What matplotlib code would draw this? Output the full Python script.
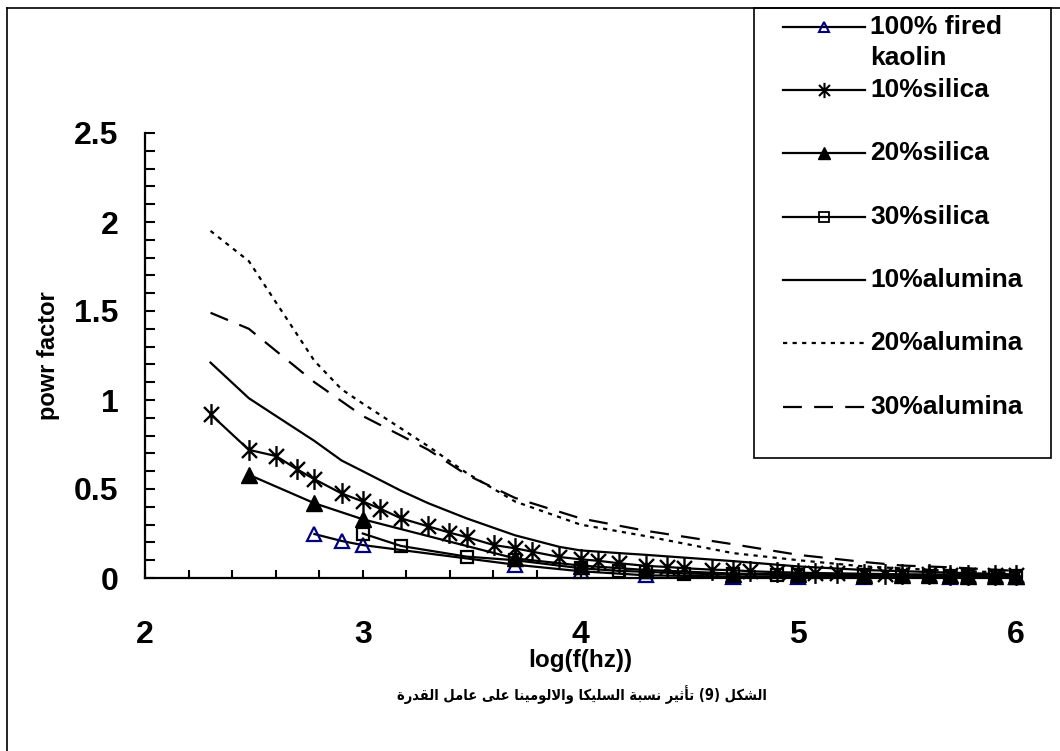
import matplotlib
matplotlib.use("Agg")
import matplotlib.pyplot as plt
from matplotlib.ticker import MultipleLocator
from matplotlib.lines import Line2D
from matplotlib.patches import Rectangle
from matplotlib.path import Path

# ---------------- data (log10 of frequency in Hz, power factor) ----------------
x_kaolin = [2.778, 2.903, 3.0, 3.699, 4.0, 4.301, 4.699, 5.0, 5.301, 5.699, 6.0]
y_kaolin = [0.247, 0.208, 0.185, 0.075, 0.038, 0.015, 0.008, 0.006, 0.005, 0.004, 0.003]

x_si10 = [2.301, 2.477, 2.602, 2.699, 2.778, 2.903, 3.0, 3.079, 3.176, 3.301, 3.398, 3.477,
          3.602, 3.699, 3.778, 3.903, 4.0, 4.079, 4.176, 4.301, 4.398, 4.477, 4.602, 4.699,
          4.778, 4.903, 5.0, 5.079, 5.176, 5.301, 5.398, 5.477, 5.602, 5.699, 5.778, 5.903, 6.0]
y_si10 = [0.92, 0.72, 0.685, 0.61, 0.555, 0.475, 0.43, 0.39, 0.335, 0.29, 0.255, 0.23,
          0.185, 0.167, 0.148, 0.118, 0.105, 0.097, 0.083, 0.068, 0.062, 0.055, 0.047, 0.044,
          0.038, 0.033, 0.030, 0.028, 0.026, 0.024, 0.022, 0.021, 0.020, 0.019, 0.018, 0.017, 0.016]

x_si20 = [2.477, 2.778, 3.0, 3.699, 4.0, 4.301, 4.699, 5.0, 5.301, 5.477, 5.602, 5.699, 5.778, 5.903, 6.0]
y_si20 = [0.58, 0.42, 0.33, 0.11, 0.07, 0.045, 0.025, 0.020, 0.017, 0.016, 0.015, 0.015, 0.014, 0.013, 0.012]

x_si30 = [3.0, 3.176, 3.477, 3.699, 4.0, 4.176, 4.301, 4.477, 4.699, 4.903, 5.0, 5.301, 5.477,
          5.602, 5.699, 5.778, 5.903, 6.0]
y_si30 = [0.25, 0.18, 0.12, 0.10, 0.055, 0.04, 0.035, 0.025, 0.020, 0.018, 0.017, 0.015, 0.014,
          0.013, 0.013, 0.012, 0.012, 0.011]

x_al10 = [2.301, 2.477, 2.602, 2.778, 2.903, 3.0, 3.176, 3.301, 3.477, 3.699, 3.903, 4.0,
          4.176, 4.301, 4.699, 5.0, 5.301, 5.699, 6.0]
y_al10 = [1.21, 1.01, 0.91, 0.77, 0.66, 0.60, 0.49, 0.42, 0.335, 0.24, 0.175, 0.155,
          0.14, 0.13, 0.095, 0.065, 0.045, 0.030, 0.020]

x_al20 = [2.301, 2.477, 2.778, 2.903, 3.0, 3.176, 3.301, 3.477, 3.602, 3.699, 4.0, 4.301,
          4.699, 5.0, 5.301, 5.699, 6.0]
y_al20 = [1.95, 1.78, 1.22, 1.06, 0.98, 0.84, 0.74, 0.59, 0.50, 0.43, 0.30, 0.235,
          0.14, 0.10, 0.065, 0.04, 0.03]

x_al30 = [2.301, 2.477, 2.778, 3.0, 3.176, 3.301, 3.477, 3.699, 4.0, 4.301, 4.699, 5.0,
          5.301, 5.477, 5.699, 6.0]
y_al30 = [1.49, 1.40, 1.10, 0.91, 0.80, 0.72, 0.58, 0.45, 0.335, 0.265, 0.19, 0.13,
          0.09, 0.07, 0.06, 0.04]

labels = ["100% fired\nkaolin", "10%silica", "20%silica", "30%silica",
          "10%alumina", "20%alumina", "30%alumina"]
x_label = "log(f(hz))"
y_label = "powr factor"
caption = "الشكل (9) تأثير نسبة السليكا والالومينا على عامل القدرة"

x_ticks = [2, 3, 4, 5, 6]
y_ticks = [0, 0.5, 1, 1.5, 2, 2.5]
y_tick_labels = ["0", "0.5", "1", "1.5", "2", "2.5"]

# ---------------- simple Arabic shaping (matplotlib has no shaping / bidi) ----------------
FORMS = {
    'ا': ('\uFE8D', '\uFE8E'), 'أ': ('\uFE83', '\uFE84'),
    'ب': ('\uFE8F', '\uFE90', '\uFE91', '\uFE92'), 'ة': ('\uFE93', '\uFE94'),
    'ت': ('\uFE95', '\uFE96', '\uFE97', '\uFE98'), 'ث': ('\uFE99', '\uFE9A', '\uFE9B', '\uFE9C'),
    'د': ('\uFEA9', '\uFEAA'), 'ر': ('\uFEAD', '\uFEAE'),
    'س': ('\uFEB1', '\uFEB2', '\uFEB3', '\uFEB4'), 'ش': ('\uFEB5', '\uFEB6', '\uFEB7', '\uFEB8'),
    'ع': ('\uFEC9', '\uFECA', '\uFECB', '\uFECC'), 'ق': ('\uFED5', '\uFED6', '\uFED7', '\uFED8'),
    'ك': ('\uFED9', '\uFEDA', '\uFEDB', '\uFEDC'), 'ل': ('\uFEDD', '\uFEDE', '\uFEDF', '\uFEE0'),
    'م': ('\uFEE1', '\uFEE2', '\uFEE3', '\uFEE4'), 'ن': ('\uFEE5', '\uFEE6', '\uFEE7', '\uFEE8'),
    'و': ('\uFEED', '\uFEEE'), 'ى': ('\uFEEF', '\uFEF0'),
    'ي': ('\uFEF1', '\uFEF2', '\uFEF3', '\uFEF4'),
}
LAMALEF = {'ا': ('\uFEFB', '\uFEFC'), 'أ': ('\uFEF7', '\uFEF8')}


def shape_arabic(text):
    chars = list(text)
    n = len(chars)
    dual = lambda c: c in FORMS and len(FORMS[c]) == 4
    out = []
    i = 0
    while i < n:
        c = chars[i]
        if c not in FORMS:
            out.append(c)
            i += 1
            continue
        prev = chars[i - 1] if i > 0 else None
        join_prev = prev is not None and dual(prev)
        if c == 'ل' and i + 1 < n and chars[i + 1] in LAMALEF:
            iso, fin = LAMALEF[chars[i + 1]]
            out.append(fin if join_prev else iso)
            i += 2
            continue
        nxt = chars[i + 1] if i + 1 < n else None
        join_next = dual(c) and nxt is not None and nxt in FORMS
        f = FORMS[c]
        if join_prev and join_next:
            g = f[3]
        elif join_prev:
            g = f[1]
        elif join_next:
            g = f[2]
        else:
            g = f[0]
        out.append(g)
        i += 1
    vis = ''.join(out)[::-1]
    return vis.translate(str.maketrans('()', ')('))


# ---------------- figure ----------------
W, H = 1060, 751
plt.rcParams['font.family'] = ['Liberation Sans', 'DejaVu Sans']
plt.rcParams['font.weight'] = 'bold'
fig = plt.figure(figsize=(W / 100, H / 100), dpi=100)
fig.patch.set_facecolor('white')


def fx(px):
    return px / W


def fy(py):
    return 1 - py / H


ax = fig.add_axes([fx(145), fy(578), fx(1016) - fx(145), fy(133) - fy(578)])
ax.set_facecolor('none')

lw = 1.6
NAVY = '#000080'
# Excel-style asterisk: vertical bar plus a diagonal cross
asterisk = Path([(0, -1), (0, 1), (-0.72, -0.72), (0.72, 0.72), (-0.72, 0.72), (0.72, -0.72)],
                [Path.MOVETO, Path.LINETO, Path.MOVETO, Path.LINETO, Path.MOVETO, Path.LINETO])

styles = [
    dict(color='black', lw=lw, marker='^', ms=10, mfc='none', mec=NAVY, mew=1.6),
    dict(color='black', lw=lw, marker=asterisk, ms=15, mec='black', mew=1.7),
    dict(color='black', lw=lw, marker='^', ms=11, mfc='black', mec='black'),
    dict(color='black', lw=lw, marker='s', ms=9, mfc='none', mec='black', mew=1.6),
    dict(color='black', lw=lw, ls='-'),
    dict(color='black', lw=lw, dashes=(1.9, 2.4)),
    dict(color='black', lw=lw, dashes=(8.5, 5.5)),
]
series = [(x_kaolin, y_kaolin), (x_si10, y_si10), (x_si20, y_si20), (x_si30, y_si30),
          (x_al10, y_al10), (x_al20, y_al20), (x_al30, y_al30)]

for (xs, ys), st, lab in zip(series, styles, labels):
    ax.plot(xs, ys, label=lab, clip_on=False, **st)

ax.set_xlim(2, 6)
ax.set_ylim(0, 2.5)
ax.set_xticks(x_ticks)
ax.set_xticklabels([str(t) for t in x_ticks])
ax.set_yticks(y_ticks)
ax.set_yticklabels(y_tick_labels)
ax.xaxis.set_minor_locator(MultipleLocator(0.2))
ax.yaxis.set_minor_locator(MultipleLocator(0.1))
for s in ('top', 'right'):
    ax.spines[s].set_visible(False)
for s in ('left', 'bottom'):
    ax.spines[s].set_linewidth(1.6)
ax.tick_params(axis='x', which='both', direction='in', length=6, width=1.5, pad=30,
               labelsize=23)
ax.tick_params(axis='y', which='both', direction='in', length=7.5, width=1.5, pad=19,
               labelsize=23)
for t in ax.get_xticklabels() + ax.get_yticklabels():
    t.set_fontweight('bold')

fig.text(fx(48), fy(356), y_label, rotation=90, ha='center', va='center',
         fontsize=17, fontweight='bold')
fig.text(fx(580), fy(661), x_label, ha='center', va='center', fontsize=17.5, fontweight='bold')
fig.text(fx(582), fy(695), shape_arabic(caption), ha='center', va='center', fontsize=10.5,
         fontweight='bold', fontstretch='condensed', family=['DejaVu Sans'])

# outer chart frame (extends past the image on right and bottom)
fig.add_artist(Line2D([fx(7), 1.0], [fy(8), fy(8)], color='black', lw=1.2))
fig.add_artist(Line2D([fx(7), fx(7)], [fy(8), 0.0], color='black', lw=1.2))

# legend box drawn manually to match the Excel layout
fig.add_artist(Rectangle((fx(754), fy(458)), fx(1051) - fx(754), fy(8) - fy(458),
                         fill=True, facecolor='white', edgecolor='black', lw=1.2))
handle_y = [27, 90, 153, 217, 280, 343, 407]
leg_styles = [
    dict(color='black', lw=lw, marker='^', ms=7, mfc='none', mec=NAVY, mew=1.5),
    dict(color='black', lw=lw, marker=asterisk, ms=11, mec='black', mew=1.5),
    dict(color='black', lw=lw, marker='^', ms=8, mfc='black', mec='black'),
    dict(color='black', lw=lw, marker='s', ms=6.5, mfc='none', mec='black', mew=1.3),
    dict(color='black', lw=lw, ls='-'),
    dict(color='black', lw=lw, dashes=(1.9, 2.4)),
    dict(color='black', lw=lw, dashes=(8.5, 5.5)),
]
line_keys = ('color', 'lw', 'ls', 'dashes')
for hy, st, lab in zip(handle_y, leg_styles, labels):
    fig.add_artist(Line2D([fx(783), fx(865)], [fy(hy), fy(hy)],
                          **{k: v for k, v in st.items() if k in line_keys}))
    if 'marker' in st:
        fig.add_artist(Line2D([fx(824)], [fy(hy)], ls='none', marker=st['marker'], ms=st['ms'],
                              mfc=st.get('mfc', 'black'), mec=st['mec'], mew=st.get('mew', 1.0)))
    lines = lab.split('\n')
    for k, txt in enumerate(lines):
        fig.text(fx(870), fy(hy + 31 * k), txt, ha='left', va='center', fontsize=19,
                 fontweight='bold')

fig.savefig('out.png', dpi=100, facecolor='white')
